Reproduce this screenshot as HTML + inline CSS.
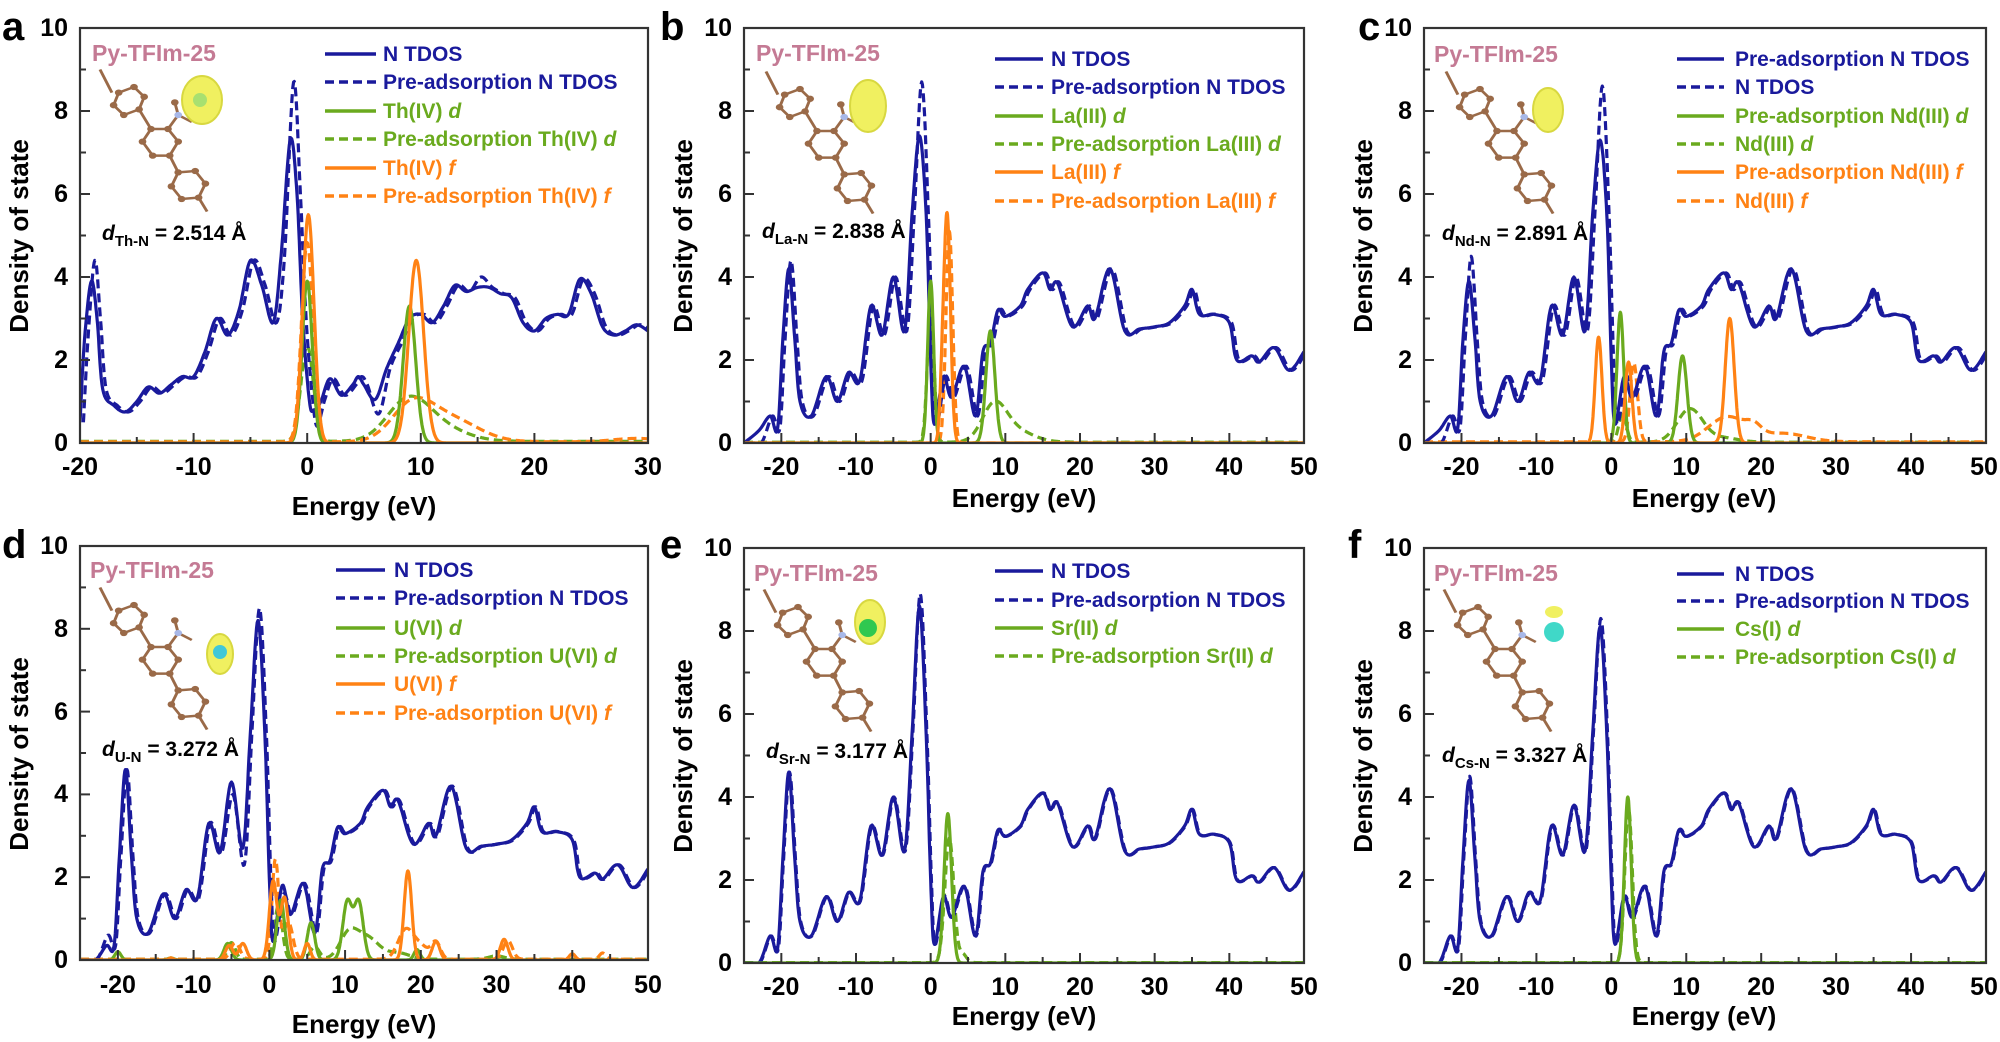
<!DOCTYPE html>
<html><head><meta charset="utf-8"><style>
html,body{margin:0;padding:0;background:#fff;}
svg{display:block;}
text{font-family:"Liberation Sans",Arial,sans-serif;font-weight:bold;}
.tl{font-size:25px;fill:#000;}
.at{font-size:26px;fill:#000;}
.pl{font-size:40px;fill:#000;}
.lg{font-size:21px;}
.py{font-size:23px;fill:#c47a94;}
.dd{font-size:21px;fill:#000;}
</style></head><body>
<svg id="s" width="2000" height="1042" viewBox="0 0 2000 1042" xmlns="http://www.w3.org/2000/svg">
<defs>
<g id="mol">
 <g stroke="#9a6a48" stroke-width="3.5" fill="none">
  <line x1="0" y1="5" x2="14" y2="38"/>
  <polygon points="22,38 40,30 52,44 46,62 28,70 16,56"/>
  <line x1="46" y1="62" x2="60" y2="90"/>
  <polygon points="60,90 80,90 92,108 82,128 62,128 50,108"/>
  <line x1="80" y1="90" x2="92" y2="70"/>
  <line x1="92" y1="70" x2="108" y2="80"/>
  <line x1="92" y1="70" x2="88" y2="52"/>
  <line x1="82" y1="128" x2="92" y2="152"/>
  <polygon points="92,152 112,150 124,168 116,188 96,190 84,172"/>
  <line x1="116" y1="188" x2="126" y2="208"/>
 </g>
 <g fill="#9a6a48">
  <circle cx="22" cy="38" r="4.5"/><circle cx="40" cy="30" r="4.5"/><circle cx="52" cy="44" r="4.5"/><circle cx="46" cy="62" r="4.5"/><circle cx="28" cy="70" r="4.5"/><circle cx="16" cy="56" r="4.5"/>
  <circle cx="60" cy="90" r="4.5"/><circle cx="80" cy="90" r="4.5"/><circle cx="92" cy="108" r="4.5"/><circle cx="82" cy="128" r="4.5"/><circle cx="62" cy="128" r="4.5"/><circle cx="50" cy="108" r="4.5"/>
  <circle cx="92" cy="152" r="4.5"/><circle cx="112" cy="150" r="4.5"/><circle cx="124" cy="168" r="4.5"/><circle cx="116" cy="188" r="4.5"/><circle cx="96" cy="190" r="4.5"/><circle cx="84" cy="172" r="4.5"/>
  <circle cx="88" cy="52" r="4.5"/>
 </g>
 <circle cx="92" cy="70" r="4.5" fill="#a8b8e8"/>
</g>
</defs>
</svg>
<script>
(function(){
var S=document.getElementById('s'),NS='http://www.w3.org/2000/svg';
function el(p,t,a){var e=document.createElementNS(NS,t);for(var k in a)e.setAttribute(k,a[k]);p.appendChild(e);return e;}
var NAVY='#1a1a9c',GR='#6aaa1e',OR='#ff8214';
function cr(pts){
 var out=[];for(var i=0;i<pts.length-1;i++){var p0=pts[Math.max(0,i-1)],p1=pts[i],p2=pts[i+1],p3=pts[Math.min(pts.length-1,i+2)];
 for(var t=0;t<1;t+=0.1){var t2=t*t,t3=t2*t;
 var x=0.5*((2*p1[0])+(-p0[0]+p2[0])*t+(2*p0[0]-5*p1[0]+4*p2[0]-p3[0])*t2+(-p0[0]+3*p1[0]-3*p2[0]+p3[0])*t3);
 var y=0.5*((2*p1[1])+(-p0[1]+p2[1])*t+(2*p0[1]-5*p1[1]+4*p2[1]-p3[1])*t2+(-p0[1]+3*p1[1]-3*p2[1]+p3[1])*t3);
 out.push([x,Math.max(0,y)]);}}
 out.push(pts[pts.length-1]);return out;}
function gs(peaks,x0,x1,base){var o=[];for(var x=x0;x<=x1+1e-9;x+=0.05){var y=base||0;peaks.forEach(function(p){y+=p[1]*Math.exp(-Math.pow((x-p[0])/p[2],2)/2);});o.push([x,y]);}return o;}
var TA=[[-20,0.5],[-19.6,2.5],[-19,3.9],[-18.5,3],[-18,1.3],[-17,0.9],[-16,0.75],[-15,1.0],[-14,1.35],[-13,1.2],[-12,1.4],[-11,1.6],[-10,1.6],[-9,2.2],[-8,3.0],[-7,2.6],[-6,3.2],[-5,4.4],[-4,3.8],[-3,2.9],[-2.3,4.5],[-1.5,7.3],[-0.9,6.0],[-0.4,3.0],[0.2,1.0],[0.6,0.8],[1.2,1.0],[2,1.55],[3,1.15],[4,1.4],[4.5,1.6],[5,1.4],[6,1.05],[7,1.8],[8,2.4],[9,3.0],[10,3.1],[11,2.9],[12,3.3],[13,3.8],[14,3.65],[15,3.75],[16,3.75],[17,3.6],[18,3.5],[19,2.9],[20,2.7],[21,3.0],[22,3.1],[23,3.1],[24,3.95],[25,3.6],[26,2.8],[27,2.6],[28,2.7],[29,2.85],[30,2.7]];
var TAd=TA.map(function(p){var y=p[1];if(p[0]==-1.5)y=8.7;if(p[0]==-19)y=4.4;if(p[0]==0.6)y=0.4;if(p[0]==6)y=0.7;if(p[0]==15)y=4.0;return [p[0]+0.3,y];});
var TE=[[-25,0],[-23,0],[-21.5,0.65],[-20.5,0.35],[-19.8,2.5],[-19,4.6],[-18.2,2.5],[-17.5,1.0],[-16,0.65],[-14,1.6],[-12.5,1.0],[-11,1.7],[-9.5,1.5],[-8,3.3],[-6.5,2.6],[-5,4.0],[-3.5,2.7],[-2.5,5.5],[-1.5,8.6],[-0.6,5.5],[0,2.0],[0.5,0.45],[1.7,1.6],[2.8,1.1],[4.5,1.85],[6,0.65],[7,2.2],[8,2.4],[9,3.2],[10,3.05],[12,3.3],[13,3.7],[15,4.1],[16,3.7],[17,3.85],[19,2.8],[21,3.3],[22,3.0],[24,4.2],[26,2.7],[28,2.75],[30,2.8],[32,2.9],[34,3.3],[35,3.7],[36,3.1],[38,3.1],[40,2.9],[41,2.0],[43,2.1],[44,1.95],[46,2.3],[48,1.75],[50,2.2]];
function mod(base,f){return base.map(function(p){var r=f(p[0],p[1]);return [p[0]+(r[1]||0),r[0]];});}
var P=[
 {x:80,y:28,w:568,h:415,r:[-20,30],N:[TA,TAd],pd:[
   [gs([[0,3.9,0.45],[9,3.3,0.55]],-20,30),GR,0],
   [gs([[0,2.3,0.55],[8.8,0.8,1.8],[11,0.4,2.5]],-20,30,0.04),GR,1],
   [gs([[0.1,5.5,0.5],[9.6,4.4,0.65]],-20,30),OR,0],
   [gs([[0,4.8,0.5],[9.2,0.8,1.8],[12.5,0.55,2.5],[29,0.08,2]],-20,30,0.03),OR,1]]},
 {x:744,y:28,w:560,h:415,r:[-25,50],N:[mod(TE,function(x,y){if(x==-1.5)return[7.4];if(x==-19)return[4.2];if(x==-23)return[0.3];return[y];}),mod(TE,function(x,y){if(x==-1.5)return[8.7,0.3];if(x==-19)return[4.4,0.3];return[y,0.3];})],pd:[
   [gs([[0,3.9,0.4],[8,2.7,0.6]],-25,50),GR,0],
   [gs([[0,3.2,0.45],[8.5,0.8,1.6],[11,0.3,2.5]],-25,50,0.02),GR,1],
   [gs([[2.2,5.5,0.45],[1.5,0.8,0.3]],-25,50),OR,0],
   [gs([[2.5,5.1,0.45]],-25,50),OR,1]]},
 {x:1424,y:28,w:562,h:415,r:[-25,50],N:[mod(TE,function(x,y){if(x==-1.5)return[7.3];if(x==-19)return[3.9];if(x==-23)return[0.3];return[y];}),mod(TE,function(x,y){if(x==-1.5)return[8.6,0.3];if(x==-19)return[4.5,0.3];return[y,0.3];})],pd:[
   [gs([[1.2,3.15,0.45],[9.5,2.1,0.6]],-25,50),GR,0],
   [gs([[1.5,0.7,0.5],[10.5,0.8,1.7],[15,0.1,2]],-25,50,0.02),GR,1],
   [gs([[-1.7,2.55,0.45],[2.3,1.95,0.45],[15.8,3.0,0.6]],-25,50),OR,0],
   [gs([[3,1.9,0.5],[15.5,0.6,2.5],[19,0.2,1],[23,0.2,3]],-25,50,0.03),OR,1]]},
 {x:80,y:546,w:568,h:414,r:[-25,50],N:[mod(TE,function(x,y){if(x==-1.5)return[8.2];if(x==-21.5)return[0.35];if(x==1.7)return[1.8];if(x==-5)return[4.3];return[y];}),mod(TE,function(x,y){if(x==-1.5)return[8.5,0.2];if(x==-21.5)return[0.6,0.2];if(x==-3.5)return[2.3,0.2];return[y,0.2];})],pd:[
   [gs([[-20,0.2,0.4],[-5.5,0.4,0.5],[1.5,1.45,0.5],[5.5,0.9,0.5],[10.3,1.4,0.6],[11.8,1.4,0.6],[19.5,0.25,0.4],[-13,0.05,0.4]],-25,50),GR,0],
   [gs([[-5,0.4,0.5],[1.2,1.3,0.5],[6,0.3,0.6],[10.5,0.6,1.2],[13,0.5,1.5],[17,0.15,1.5],[30,0.08,1]],-25,50,0.02),GR,1],
   [gs([[-5.3,0.35,0.5],[-3.5,0.4,0.5],[0.5,1.9,0.5],[2,1.5,0.5],[5,0.4,0.4],[18.3,2.15,0.5],[22,0.45,0.5],[31,0.5,0.5],[40,0.15,0.4],[-13,0.05,0.3]],-25,50),OR,0],
   [gs([[-4.5,0.4,0.6],[0.8,2.4,0.45],[2.5,0.9,0.6],[18,0.7,1],[20,0.3,1],[22,0.4,0.6],[31.5,0.45,0.6],[44,0.15,0.4]],-25,50,0.02),OR,1]]},
 {x:744,y:548,w:560,h:415,r:[-25,50],N:[TE,mod(TE,function(x,y){if(x==-1.5)return[8.9,0.1];return[y,0.1];})],pd:[
   [gs([[2.3,3.6,0.5]],-25,50),GR,0],
   [gs([[2.5,3.0,0.6],[4.3,0.2,0.5]],-25,50,0.01),GR,1]]},
 {x:1424,y:548,w:562,h:415,r:[-25,50],N:[mod(TE,function(x,y){if(x==-1.5)return[8.1];if(x==-19)return[4.4];if(x==-5)return[3.8];return[y];}),mod(TE,function(x,y){if(x==-1.5)return[8.3,0.1];if(x==-19)return[4.5,0.1];if(x==-5)return[3.8,0.1];return[y,0.1];})],pd:[
   [gs([[2.2,4.0,0.45]],-25,50),GR,0],
   [gs([[2.3,3.7,0.5]],-25,50,0.01),GR,1]]}
];
P.forEach(function(p){
 var g=el(S,'g',{transform:'translate('+p.x+','+p.y+')'});
 var X=function(v){return (v-p.r[0])/(p.r[1]-p.r[0])*p.w;},Y=function(v){return p.h-v/10*p.h;};
 var cp=el(g,'clipPath',{id:'c'+p.x+p.y});el(cp,'rect',{x:0,y:0,width:p.w,height:p.h});
 var cg=el(g,'g',{'clip-path':'url(#c'+p.x+p.y+')'});
 function path(pts,col,dash,smooth){var q=smooth?cr(pts):pts;var d=q.map(function(a,i){return (i?'L':'M')+X(a[0]).toFixed(1)+' '+Y(a[1]).toFixed(1);}).join('');
  el(cg,'path',{d:d,fill:'none',stroke:col,'stroke-width':3.2,'stroke-dasharray':dash?'9,5':'none','stroke-linejoin':'round'});}
 p.pd.forEach(function(q){if(q[2])path(q[0],q[1],1,0);});
 path(p.N[1],NAVY,1,1);path(p.N[0],NAVY,0,1);
 p.pd.forEach(function(q){if(!q[2])path(q[0],q[1],0,0);});
 el(g,'rect',{x:0,y:0,width:p.w,height:p.h,fill:'none',stroke:'#333',"stroke-width":2.2});
 for(var v=Math.ceil(p.r[0]/5)*5;v<=p.r[1];v+=5){var maj=v%10==0;el(g,'line',{x1:X(v),x2:X(v),y1:p.h,y2:p.h-(maj?10:6),stroke:'#333','stroke-width':2});}
 for(var v=0;v<=10;v++){el(g,'line',{x1:0,x2:v%2?6:10,y1:Y(v),y2:Y(v),stroke:'#333','stroke-width':2});}
});
})();
</script>
<svg width="2000" height="1042" viewBox="0 0 2000 1042" style="position:absolute;left:0;top:0" xmlns="http://www.w3.org/2000/svg">
<text class="pl" x="2" y="40">a</text>
<text class="pl" x="660" y="40">b</text>
<text class="pl" x="1358" y="40">c</text>
<text class="pl" x="2" y="558">d</text>
<text class="pl" x="660" y="558">e</text>
<text class="pl" x="1348" y="558">f</text>

<!-- Panel a -->
<g transform="translate(80,28)">
<g class="tl" text-anchor="end"><text x="-12" y="423">0</text><text x="-12" y="340">2</text><text x="-12" y="257">4</text><text x="-12" y="174">6</text><text x="-12" y="91">8</text><text x="-12" y="8">10</text></g>
<g class="tl" text-anchor="middle"><text x="0" y="447">-20</text><text x="113.6" y="447">-10</text><text x="227.2" y="447">0</text><text x="340.8" y="447">10</text><text x="454.4" y="447">20</text><text x="568" y="447">30</text></g>
<text class="at" x="284" y="487" text-anchor="middle">Energy (eV)</text>
<text class="at" transform="translate(-52,208) rotate(-90)" text-anchor="middle">Density of state</text>
<text class="py" x="12" y="33">Py-TFIm-25</text>
<use href="#mol" transform="translate(20,38) scale(0.85,0.7)"/>
<ellipse cx="122" cy="72" rx="20" ry="24" fill="#f0f060" stroke="#d8d840" stroke-width="2"/>
<circle cx="120" cy="72" r="7" fill="#a8e070"/>
<text class="dd" x="22" y="212"><tspan font-style="italic">d</tspan><tspan font-size="15" dy="6">Th-N</tspan><tspan dy="-6"> = 2.514 Å</tspan></text>
<g class="lg">
<line x1="245" x2="296" y1="26" y2="26" stroke="#1a1a9c" stroke-width="3.5"/><text x="303" y="33" fill="#1a1a9c">N TDOS</text>
<line x1="245" x2="296" y1="54" y2="54" stroke="#1a1a9c" stroke-width="3.5" stroke-dasharray="9,5"/><text x="303" y="61" fill="#1a1a9c">Pre-adsorption N TDOS</text>
<line x1="245" x2="296" y1="83" y2="83" stroke="#6aaa1e" stroke-width="3.5"/><text x="303" y="90" fill="#6aaa1e">Th(IV) <tspan font-style="italic">d</tspan></text>
<line x1="245" x2="296" y1="111" y2="111" stroke="#6aaa1e" stroke-width="3.5" stroke-dasharray="9,5"/><text x="303" y="118" fill="#6aaa1e">Pre-adsorption Th(IV) <tspan font-style="italic">d</tspan></text>
<line x1="245" x2="296" y1="140" y2="140" stroke="#ff8214" stroke-width="3.5"/><text x="303" y="147" fill="#ff8214">Th(IV) <tspan font-style="italic">f</tspan></text>
<line x1="245" x2="296" y1="168" y2="168" stroke="#ff8214" stroke-width="3.5" stroke-dasharray="9,5"/><text x="303" y="175" fill="#ff8214">Pre-adsorption Th(IV) <tspan font-style="italic">f</tspan></text>
</g>
</g>

<!-- Panel b -->
<g transform="translate(744,28)">
<g class="tl" text-anchor="end"><text x="-12" y="423">0</text><text x="-12" y="340">2</text><text x="-12" y="257">4</text><text x="-12" y="174">6</text><text x="-12" y="91">8</text><text x="-12" y="8">10</text></g>
<g class="tl" text-anchor="middle"><text x="37.3" y="447">-20</text><text x="112" y="447">-10</text><text x="186.7" y="447">0</text><text x="261.3" y="447">10</text><text x="336" y="447">20</text><text x="410.7" y="447">30</text><text x="485.3" y="447">40</text><text x="560" y="447">50</text></g>
<text class="at" x="280" y="479" text-anchor="middle">Energy (eV)</text>
<text class="at" transform="translate(-52,208) rotate(-90)" text-anchor="middle">Density of state</text>
<text class="py" x="12" y="33">Py-TFIm-25</text>
<use href="#mol" transform="translate(22,40) scale(0.85,0.7)"/>
<ellipse cx="124" cy="78" rx="18" ry="26" fill="#f0f060" stroke="#d8d840" stroke-width="2"/>
<text class="dd" x="18" y="210"><tspan font-style="italic">d</tspan><tspan font-size="15" dy="6">La-N</tspan><tspan dy="-6"> = 2.838 Å</tspan></text>
<g class="lg">
<line x1="251" x2="299" y1="31" y2="31" stroke="#1a1a9c" stroke-width="3.5"/><text x="307" y="38" fill="#1a1a9c">N TDOS</text>
<line x1="251" x2="299" y1="59" y2="59" stroke="#1a1a9c" stroke-width="3.5" stroke-dasharray="9,5"/><text x="307" y="66" fill="#1a1a9c">Pre-adsorption N TDOS</text>
<line x1="251" x2="299" y1="88" y2="88" stroke="#6aaa1e" stroke-width="3.5"/><text x="307" y="95" fill="#6aaa1e">La(III) <tspan font-style="italic">d</tspan></text>
<line x1="251" x2="299" y1="116" y2="116" stroke="#6aaa1e" stroke-width="3.5" stroke-dasharray="9,5"/><text x="307" y="123" fill="#6aaa1e">Pre-adsorption La(III) <tspan font-style="italic">d</tspan></text>
<line x1="251" x2="299" y1="144" y2="144" stroke="#ff8214" stroke-width="3.5"/><text x="307" y="151" fill="#ff8214">La(III) <tspan font-style="italic">f</tspan></text>
<line x1="251" x2="299" y1="173" y2="173" stroke="#ff8214" stroke-width="3.5" stroke-dasharray="9,5"/><text x="307" y="180" fill="#ff8214">Pre-adsorption La(III) <tspan font-style="italic">f</tspan></text>
</g>
</g>

<!-- Panel c -->
<g transform="translate(1424,28)">
<g class="tl" text-anchor="end"><text x="-12" y="423">0</text><text x="-12" y="340">2</text><text x="-12" y="257">4</text><text x="-12" y="174">6</text><text x="-12" y="91">8</text><text x="-12" y="8">10</text></g>
<g class="tl" text-anchor="middle"><text x="37.5" y="447">-20</text><text x="112.4" y="447">-10</text><text x="187.3" y="447">0</text><text x="262.3" y="447">10</text><text x="337.2" y="447">20</text><text x="412" y="447">30</text><text x="487" y="447">40</text><text x="560" y="447">50</text></g>
<text class="at" x="280" y="479" text-anchor="middle">Energy (eV)</text>
<text class="at" transform="translate(-52,208) rotate(-90)" text-anchor="middle">Density of state</text>
<text class="py" x="10" y="34">Py-TFIm-25</text>
<use href="#mol" transform="translate(22,40) scale(0.85,0.7)"/>
<ellipse cx="124" cy="82" rx="15" ry="22" fill="#f0f060" stroke="#d8d840" stroke-width="2"/>
<text class="dd" x="18" y="212"><tspan font-style="italic">d</tspan><tspan font-size="15" dy="6">Nd-N</tspan><tspan dy="-6"> = 2.891 Å</tspan></text>
<g class="lg">
<line x1="253" x2="300" y1="31" y2="31" stroke="#1a1a9c" stroke-width="3.5"/><text x="311" y="38" fill="#1a1a9c">Pre-adsorption N TDOS</text>
<line x1="253" x2="300" y1="59" y2="59" stroke="#1a1a9c" stroke-width="3.5" stroke-dasharray="9,5"/><text x="311" y="66" fill="#1a1a9c">N TDOS</text>
<line x1="253" x2="300" y1="88" y2="88" stroke="#6aaa1e" stroke-width="3.5"/><text x="311" y="95" fill="#6aaa1e">Pre-adsorption Nd(III) <tspan font-style="italic">d</tspan></text>
<line x1="253" x2="300" y1="116" y2="116" stroke="#6aaa1e" stroke-width="3.5" stroke-dasharray="9,5"/><text x="311" y="123" fill="#6aaa1e">Nd(III) <tspan font-style="italic">d</tspan></text>
<line x1="253" x2="300" y1="144" y2="144" stroke="#ff8214" stroke-width="3.5"/><text x="311" y="151" fill="#ff8214">Pre-adsorption Nd(III) <tspan font-style="italic">f</tspan></text>
<line x1="253" x2="300" y1="173" y2="173" stroke="#ff8214" stroke-width="3.5" stroke-dasharray="9,5"/><text x="311" y="180" fill="#ff8214">Nd(III) <tspan font-style="italic">f</tspan></text>
</g>
</g>

<!-- Panel d -->
<g transform="translate(80,546)">
<g class="tl" text-anchor="end"><text x="-12" y="422">0</text><text x="-12" y="339">2</text><text x="-12" y="256">4</text><text x="-12" y="174">6</text><text x="-12" y="91">8</text><text x="-12" y="8">10</text></g>
<g class="tl" text-anchor="middle"><text x="37.9" y="447">-20</text><text x="113.6" y="447">-10</text><text x="189.3" y="447">0</text><text x="265" y="447">10</text><text x="340.8" y="447">20</text><text x="416.5" y="447">30</text><text x="492.3" y="447">40</text><text x="568" y="447">50</text></g>
<text class="at" x="284" y="487" text-anchor="middle">Energy (eV)</text>
<text class="at" transform="translate(-52,208) rotate(-90)" text-anchor="middle">Density of state</text>
<text class="py" x="10" y="32">Py-TFIm-25</text>
<use href="#mol" transform="translate(20,38) scale(0.85,0.7)"/>
<ellipse cx="140" cy="108" rx="13" ry="20" fill="#f0f060" stroke="#d8d840" stroke-width="2"/>
<circle cx="140" cy="106" r="7" fill="#40c8d8"/>
<text class="dd" x="22" y="210"><tspan font-style="italic">d</tspan><tspan font-size="15" dy="6">U-N</tspan><tspan dy="-6"> = 3.272 Å</tspan></text>
<g class="lg">
<line x1="256" x2="305" y1="24" y2="24" stroke="#1a1a9c" stroke-width="3.5"/><text x="314" y="31" fill="#1a1a9c">N TDOS</text>
<line x1="256" x2="305" y1="52" y2="52" stroke="#1a1a9c" stroke-width="3.5" stroke-dasharray="9,5"/><text x="314" y="59" fill="#1a1a9c">Pre-adsorption N TDOS</text>
<line x1="256" x2="305" y1="82" y2="82" stroke="#6aaa1e" stroke-width="3.5"/><text x="314" y="89" fill="#6aaa1e">U(VI) <tspan font-style="italic">d</tspan></text>
<line x1="256" x2="305" y1="110" y2="110" stroke="#6aaa1e" stroke-width="3.5" stroke-dasharray="9,5"/><text x="314" y="117" fill="#6aaa1e">Pre-adsorption U(VI) <tspan font-style="italic">d</tspan></text>
<line x1="256" x2="305" y1="138" y2="138" stroke="#ff8214" stroke-width="3.5"/><text x="314" y="145" fill="#ff8214">U(VI) <tspan font-style="italic">f</tspan></text>
<line x1="256" x2="305" y1="167" y2="167" stroke="#ff8214" stroke-width="3.5" stroke-dasharray="9,5"/><text x="314" y="174" fill="#ff8214">Pre-adsorption U(VI) <tspan font-style="italic">f</tspan></text>
</g>
</g>

<!-- Panel e -->
<g transform="translate(744,548)">
<g class="tl" text-anchor="end"><text x="-12" y="423">0</text><text x="-12" y="340">2</text><text x="-12" y="257">4</text><text x="-12" y="174">6</text><text x="-12" y="91">8</text><text x="-12" y="8">10</text></g>
<g class="tl" text-anchor="middle"><text x="37.3" y="447">-20</text><text x="112" y="447">-10</text><text x="186.7" y="447">0</text><text x="261.3" y="447">10</text><text x="336" y="447">20</text><text x="410.7" y="447">30</text><text x="485.3" y="447">40</text><text x="560" y="447">50</text></g>
<text class="at" x="280" y="477" text-anchor="middle">Energy (eV)</text>
<text class="at" transform="translate(-52,208) rotate(-90)" text-anchor="middle">Density of state</text>
<text class="py" x="10" y="33">Py-TFIm-25</text>
<use href="#mol" transform="translate(20,38) scale(0.85,0.7)"/>
<ellipse cx="126" cy="74" rx="15" ry="22" fill="#f0f060" stroke="#d8d840" stroke-width="2"/>
<circle cx="124" cy="80" r="9" fill="#30c850"/>
<text class="dd" x="22" y="210"><tspan font-style="italic">d</tspan><tspan font-size="15" dy="6">Sr-N</tspan><tspan dy="-6"> = 3.177 Å</tspan></text>
<g class="lg">
<line x1="251" x2="299" y1="23" y2="23" stroke="#1a1a9c" stroke-width="3.5"/><text x="307" y="30" fill="#1a1a9c">N TDOS</text>
<line x1="251" x2="299" y1="52" y2="52" stroke="#1a1a9c" stroke-width="3.5" stroke-dasharray="9,5"/><text x="307" y="59" fill="#1a1a9c">Pre-adsorption N TDOS</text>
<line x1="251" x2="299" y1="80" y2="80" stroke="#6aaa1e" stroke-width="3.5"/><text x="307" y="87" fill="#6aaa1e">Sr(II) <tspan font-style="italic">d</tspan></text>
<line x1="251" x2="299" y1="108" y2="108" stroke="#6aaa1e" stroke-width="3.5" stroke-dasharray="9,5"/><text x="307" y="115" fill="#6aaa1e">Pre-adsorption Sr(II) <tspan font-style="italic">d</tspan></text>
</g>
</g>

<!-- Panel f -->
<g transform="translate(1424,548)">
<g class="tl" text-anchor="end"><text x="-12" y="423">0</text><text x="-12" y="340">2</text><text x="-12" y="257">4</text><text x="-12" y="174">6</text><text x="-12" y="91">8</text><text x="-12" y="8">10</text></g>
<g class="tl" text-anchor="middle"><text x="37.5" y="447">-20</text><text x="112.4" y="447">-10</text><text x="187.3" y="447">0</text><text x="262.3" y="447">10</text><text x="337.2" y="447">20</text><text x="412" y="447">30</text><text x="487" y="447">40</text><text x="560" y="447">50</text></g>
<text class="at" x="280" y="477" text-anchor="middle">Energy (eV)</text>
<text class="at" transform="translate(-52,208) rotate(-90)" text-anchor="middle">Density of state</text>
<text class="py" x="10" y="33">Py-TFIm-25</text>
<use href="#mol" transform="translate(20,38) scale(0.85,0.7)"/>
<ellipse cx="130" cy="64" rx="9" ry="6" fill="#f0f060"/>
<circle cx="130" cy="84" r="10" fill="#40d8c8"/>
<text class="dd" x="18" y="214"><tspan font-style="italic">d</tspan><tspan font-size="15" dy="6">Cs-N</tspan><tspan dy="-6"> = 3.327 Å</tspan></text>
<g class="lg">
<line x1="253" x2="300" y1="26" y2="26" stroke="#1a1a9c" stroke-width="3.5"/><text x="311" y="33" fill="#1a1a9c">N TDOS</text>
<line x1="253" x2="300" y1="53" y2="53" stroke="#1a1a9c" stroke-width="3.5" stroke-dasharray="9,5"/><text x="311" y="60" fill="#1a1a9c">Pre-adsorption N TDOS</text>
<line x1="253" x2="300" y1="81" y2="81" stroke="#6aaa1e" stroke-width="3.5"/><text x="311" y="88" fill="#6aaa1e">Cs(I) <tspan font-style="italic">d</tspan></text>
<line x1="253" x2="300" y1="109" y2="109" stroke="#6aaa1e" stroke-width="3.5" stroke-dasharray="9,5"/><text x="311" y="116" fill="#6aaa1e">Pre-adsorption Cs(I) <tspan font-style="italic">d</tspan></text>
</g>
</g>
</svg>
</body></html>
